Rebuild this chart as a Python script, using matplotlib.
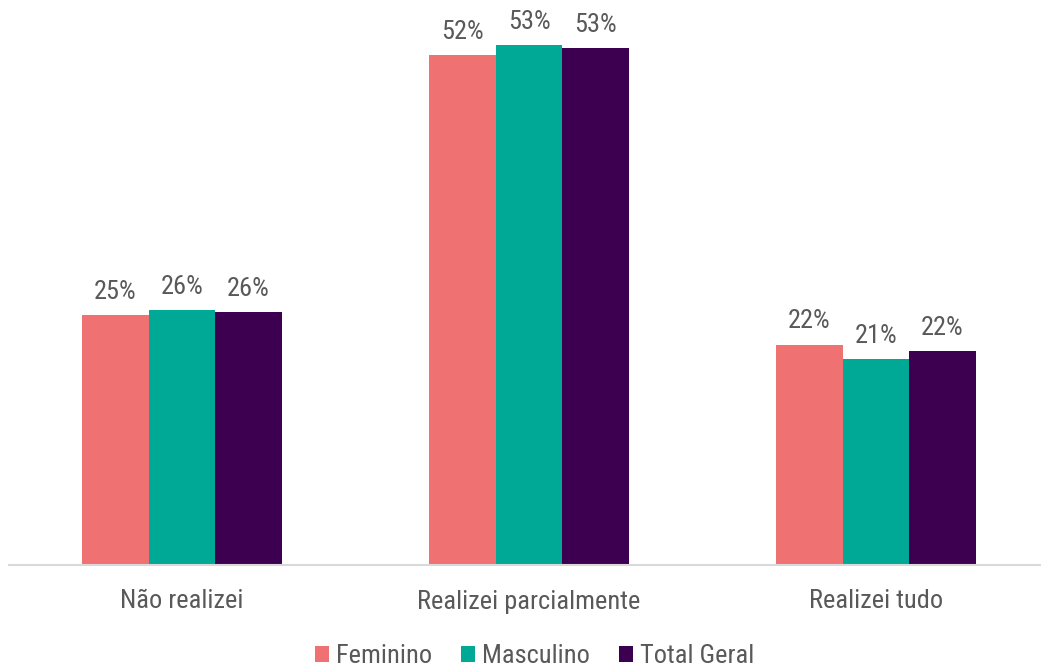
import numpy as np
import matplotlib
matplotlib.use("Agg")
import matplotlib.pyplot as plt
from matplotlib import font_manager

categorias = ["Não realizei", "Realizei parcialmente", "Realizei tudo"]
feminino = [25.4, 51.9, 22.4]
masculino = [25.9, 52.9, 20.9]
total_geral = [25.7, 52.6, 21.7]

series = [("Feminino", feminino, "#F07171"),
          ("Masculino", masculino, "#00A896"),
          ("Total Geral", total_geral, "#3D0050")]

# schmale Schrift, falls vorhanden
nomes = {f.name for f in font_manager.fontManager.ttflist}
fonte = "Liberation Sans"
for kandidat in ["Arial Narrow", "Liberation Sans Narrow", "Nimbus Sans Narrow",
                 "Roboto Condensed", "Archivo Narrow", "PT Sans Narrow"]:
    if kandidat in nomes:
        fonte = kandidat
        break
plt.rcParams["font.family"] = fonte
cinza = "#595959"

fig = plt.figure(figsize=(10.41, 6.68), dpi=100)
ax = fig.add_axes([8.5 / 1041, 103.5 / 668, 1041 / 1041, 564.5 / 668])

x = np.arange(len(categorias))
largura = 0.1917
for i, (nome, valores, cor) in enumerate(series):
    pos = x + (i - 1) * largura
    barras = ax.bar(pos, valores, width=largura, color=cor, label=nome)
    for b, v in zip(barras, valores):
        ax.annotate(f"{v:.0f}%", (b.get_x() + b.get_width() / 2, v),
                    xytext=(0, 8), textcoords="offset points",
                    ha="center", va="bottom", fontsize=19, color=cinza)

ax.set_xlim(-0.5, 2.5)
ax.set_ylim(0, 57.5)
ax.set_yticks([])
ax.set_xticks(x)
ax.set_xticklabels(categorias, fontsize=19, color=cinza)
ax.tick_params(axis="x", length=0, pad=18)
for s in ["top", "right", "left"]:
    ax.spines[s].set_visible(False)
ax.spines["bottom"].set_color("#D9D9D9")
ax.spines["bottom"].set_linewidth(1.5)

leg = fig.legend(loc="center", bbox_to_anchor=(0.5 + 14 / 1041, 12 / 668), ncol=3, frameon=False,
                 fontsize=19, handlelength=0.55, handleheight=0.55, handletextpad=0.25,
                 columnspacing=1.1)
for t in leg.get_texts():
    t.set_color(cinza)

fig.savefig("out.png", dpi=100)
